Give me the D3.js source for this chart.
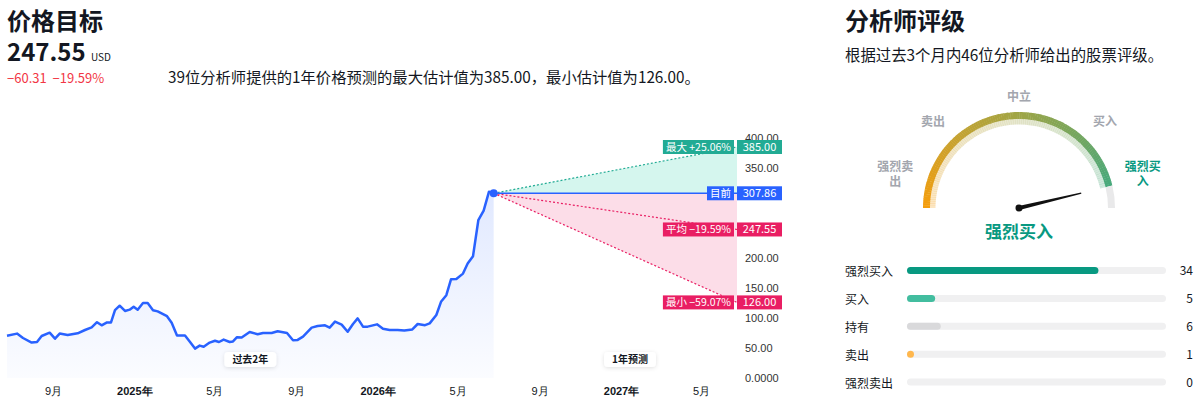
<!DOCTYPE html>
<html><head><meta charset="utf-8">
<script src="https://cdn.jsdelivr.net/npm/d3@7/dist/d3.min.js"></script>
<style>
body{margin:0;background:#fff;}
svg{display:block;font-family:"Noto Sans CJK SC","Noto Sans",sans-serif;}
</style></head><body>
<svg id="c" width="1200" height="405"></svg>
<script>
// ---------------- data ----------------
const priceDates = ["2024-06-24","2024-07-09","2024-07-18","2024-07-31","2024-08-08","2024-08-15","2024-08-27","2024-09-04","2024-09-11","2024-09-23","2024-10-08","2024-10-19","2024-10-29","2024-11-06","2024-11-13","2024-11-21","2024-11-27","2024-12-03","2024-12-10","2024-12-18","2024-12-25","2024-12-31","2025-01-06","2025-01-14","2025-01-21","2025-01-29","2025-02-05","2025-02-19","2025-02-26","2025-03-06","2025-03-18","2025-03-25","2025-04-02","2025-04-09","2025-04-15","2025-04-24","2025-05-02","2025-05-08","2025-05-15","2025-05-24","2025-05-29","2025-06-04","2025-06-11","2025-06-23","2025-07-05","2025-07-13","2025-07-26","2025-08-04","2025-08-18","2025-08-27","2025-09-03","2025-09-11","2025-09-24","2025-10-03","2025-10-14","2025-10-21","2025-10-29","2025-11-08","2025-11-17","2025-11-25","2025-12-02","2025-12-10","2025-12-17","2025-12-31","2026-01-09","2026-01-19","2026-01-31","2026-02-10","2026-02-22","2026-03-02","2026-03-13","2026-03-20","2026-03-30","2026-04-06","2026-04-14","2026-04-21","2026-04-29","2026-05-09","2026-05-16","2026-05-24","2026-06-01","2026-06-09","2026-06-17","2026-06-23","2026-06-24"];
const priceValues = [70.5,74,66.7,59,60,70,75.5,65.5,74,71.5,74.5,80,84.4,93,87.8,92.7,92.7,113,120.5,111.7,113.9,118.9,113.9,125,125,113,111,103,92,71,71,61,49,54,52,59,62,60,64,60,61,68,67.5,76.7,73,75,75,77.8,75,63,63.5,69,84,86.7,87.8,84,94,89,77,90,99.4,85.6,85.6,89.4,82,80,80,79,81,90,88,91,105,127,138,164.4,165,174,191,203,263,279,310.5,309,307.86];
const forecastEnd = "2027-06-24";
const currentPrice = 307.86;
const targetNames = ["最大","平均","最小"];
const targetValues = [385.00, 247.55, 126.00];
const yTicks = [0,50,100,150,200,250,300,350,400];
const xTickDates = ["2024-09-01","2025-01-01","2025-05-01","2025-09-01","2026-01-01","2026-05-01","2026-09-01","2027-01-01","2027-05-01"];
const xTickLabels = ["9月","2025年","5月","9月","2026年","5月","9月","2027年","5月"];
const ratingNames = ["强烈买入","买入","持有","卖出","强烈卖出"];
const ratingCounts = [34,5,6,1,0];
const ratingTotal = 46;
const gaugeLabels = ["强烈卖出","卖出","中立","买入","强烈买入"];
const gaugeScore = 4.70; // 1 = 强烈卖出 ... 5 = 强烈买入
const analystCount = 39;

// ---------------- setup ----------------
const svg = d3.select("#c");
const parse = d3.timeParse("%Y-%m-%d");
const INK = "#131722";
const BLUE = "#2962ff", GREEN = "#22ab94", PINK = "#e91e63", RED = "#f23645", TEAL = "#089981";
const fmt2 = d3.format(".2f");
const sgn = v => (v < 0 ? "\u2212" : "+") + fmt2(Math.abs(v));

// ---------------- headers ----------------
const avg = targetValues[1];
svg.append("text").attr("x",7).attr("y",30).attr("font-size",24).attr("font-weight",700).attr("fill",INK).text("价格目标");
svg.append("text").attr("x",7).attr("y",61).attr("font-size",24).attr("font-weight",700).attr("fill",INK).text(fmt2(avg));
svg.append("text").attr("x",91).attr("y",61).attr("font-size",10).attr("fill",INK).text("USD");
svg.append("text").attr("x",7).attr("y",83).attr("font-size",13).attr("fill",RED).attr("xml:space","preserve")
  .text(sgn(avg-currentPrice) + "  " + sgn((avg/currentPrice-1)*100) + "%");
svg.append("text").attr("x",168).attr("y",83).attr("font-size",15.3).attr("fill",INK)
  .text(`${analystCount}位分析师提供的1年价格预测的最大估计值为${fmt2(targetValues[0])}，最小估计值为${fmt2(targetValues[2])}。`);

svg.append("text").attr("x",845).attr("y",30).attr("font-size",24).attr("font-weight",700).attr("fill",INK).text("分析师评级");
svg.append("text").attr("x",845).attr("y",61).attr("font-size",15.4).attr("fill",INK)
  .text(`根据过去3个月内${ratingTotal}位分析师给出的股票评级。`);

// ---------------- price chart ----------------
const past = priceDates.map((d,i)=>({date:parse(d), v:priceValues[i]}));
const last = past[past.length-1];
const endD = parse(forecastEnd);
const x = d3.scaleTime().domain([past[0].date, endD]).range([7,737]);
const y = d3.scaleLinear().domain([0,400]).range([378,138]);

const defs = svg.append("defs");
const g1 = defs.append("linearGradient").attr("id","ag").attr("gradientUnits","userSpaceOnUse")
  .attr("x1",0).attr("x2",0).attr("y1",y(currentPrice)).attr("y2",y(0));
g1.append("stop").attr("offset",0).attr("stop-color",BLUE).attr("stop-opacity",0.14);
g1.append("stop").attr("offset",1).attr("stop-color",BLUE).attr("stop-opacity",0.02);
const sh = defs.append("filter").attr("id","sh").attr("x","-30%").attr("y","-60%").attr("width","160%").attr("height","220%");
sh.append("feDropShadow").attr("dx",0).attr("dy",1).attr("stdDeviation",2).attr("flood-color","#000").attr("flood-opacity",0.12);

const chart = svg.append("g");
chart.append("path").datum(past)
  .attr("d", d3.area().x(d=>x(d.date)).y0(y(0)).y1(d=>y(d.v)))
  .attr("fill","url(#ag)");

// forecast fills
const x0 = x(last.date), x1 = x(endD), yc = y(currentPrice);
chart.append("path").attr("d", `M${x0},${yc}L${x1},${y(targetValues[0])}L${x1},${yc}Z`).attr("fill","#2bd4a9").attr("fill-opacity",0.2);
chart.append("path").attr("d", `M${x0},${yc}L${x1},${yc}L${x1},${y(targetValues[2])}Z`).attr("fill",PINK).attr("fill-opacity",0.15);

const ln = d3.line().x(d=>x(d[0])).y(d=>y(d[1]));
targetValues.forEach((v,i)=>{
  chart.append("path").attr("d", ln([[last.date,currentPrice],[endD,v]]))
    .attr("fill","none").attr("stroke", i===0?GREEN:PINK).attr("stroke-width",1.2).attr("stroke-dasharray","2,2");
});
chart.append("path").attr("d", ln([[last.date,currentPrice],[endD,currentPrice]]))
  .attr("fill","none").attr("stroke",BLUE).attr("stroke-width",1.5);

chart.append("path").datum(past)
  .attr("d", d3.line().x(d=>x(d.date)).y(d=>y(d.v)))
  .attr("fill","none").attr("stroke",BLUE).attr("stroke-width",2.5).attr("stroke-linejoin","round");
chart.append("circle").attr("cx",x0).attr("cy",yc).attr("r",4).attr("fill",BLUE);

// period labels
function pill(cx, cy, txt){
  const g = svg.append("g");
  const r = g.append("rect").attr("fill","#fff").attr("rx",4).attr("filter","url(#sh)");
  const t = g.append("text").attr("x",cx).attr("y",cy+3.5).attr("text-anchor","middle")
    .attr("font-size",10).attr("font-weight",700).attr("fill",INK).text(txt);
  const w = t.node().getComputedTextLength()+16;
  r.attr("x",cx-w/2).attr("y",cy-7.5).attr("width",w).attr("height",15);
}
pill((x(past[0].date)+x0)/2, 359.5, "过去2年");
pill(630, 359.5, "1年预测");

// axes (tick labels hidden behind value tags are not drawn)
const tagVals = [currentPrice, ...targetValues];
const visTicks = yTicks.filter(t => tagVals.every(v => Math.abs(y(t)-y(v)) >= 8));
const ya = svg.append("g").attr("transform","translate(742,0)")
  .call(d3.axisRight(y).tickValues(visTicks).tickSize(0).tickPadding(3)
    .tickFormat(v => v===0 ? "0.0000" : fmt2(v)));
ya.select(".domain").remove();
ya.selectAll("text").attr("font-size",11).attr("fill","#333").attr("font-family","inherit");

const xa = svg.append("g").attr("transform","translate(0,387)")
  .call(d3.axisBottom(x).tickValues(xTickDates.map(parse)).tickSize(0).tickPadding(0)
    .tickFormat((d,i)=>xTickLabels[i]));
xa.select(".domain").remove();
xa.selectAll("text").attr("font-size",11).attr("fill",INK).attr("font-family","inherit")
  .attr("font-weight",(d,i)=>xTickLabels[i].includes("年")?700:400);

// value tags
function tag(v, left, right, color){
  const cy = y(v);
  const g = svg.append("g");
  const lr = g.append("rect").attr("fill",color);
  const lt = g.append("text").attr("x",731).attr("y",cy+4).attr("text-anchor","end")
    .attr("font-size",10.5).attr("fill","#fff").text(left);
  const w = lt.node().getComputedTextLength()+6;
  lr.attr("x",734-w).attr("y",cy-7).attr("width",w).attr("height",14);
  g.append("rect").attr("x",737).attr("y",cy-7).attr("width",45).attr("height",14).attr("fill",color);
  g.append("text").attr("x",759.5).attr("y",cy+4).attr("text-anchor","middle")
    .attr("font-size",11).attr("fill","#fff").text(right);
}
tag(targetValues[0], `${targetNames[0]} ${sgn((targetValues[0]/currentPrice-1)*100)}%`, fmt2(targetValues[0]), GREEN);
tag(currentPrice, "目前", fmt2(currentPrice), BLUE);
tag(targetValues[1], `${targetNames[1]} ${sgn((targetValues[1]/currentPrice-1)*100)}%`, fmt2(targetValues[1]), PINK);
tag(targetValues[2], `${targetNames[2]} ${sgn((targetValues[2]/currentPrice-1)*100)}%`, fmt2(targetValues[2]), PINK);

// ---------------- gauge ----------------
const gcx = 1019, gcy = 208;
const gg = svg.append("g").attr("transform",`translate(${gcx},${gcy})`);
const frac = (gaugeScore-1)/4;
const col = d3.scaleLinear().domain([0,0.25,0.5,0.75,1])
  .range(["#f59d0c","#c9a22f","#9fa546","#6ea663","#36ab88"]);
const ang = f => -Math.PI/2 + f*Math.PI;
const N = 120;
const outer = d3.arc().innerRadius(89).outerRadius(96);
const inner = d3.arc().innerRadius(83.5).outerRadius(89);
for(let i=0;i<N;i++){
  const a = frac*i/N, b = frac*(i+1)/N;
  const c = col((a+b)/2);
  const e = i<N-1 ? 0.004 : 0;
  gg.append("path").attr("d", outer({startAngle:ang(a), endAngle:ang(b)+e})).attr("fill",c);
  gg.append("path").attr("d", inner({startAngle:ang(a), endAngle:ang(b)+e})).attr("fill",c).attr("fill-opacity",0.25);
}
gg.append("path").attr("d", outer({startAngle:ang(frac), endAngle:ang(1)})).attr("fill","#e9e9ea");

// needle
const th = Math.PI*(1-frac), L = 64;
const ux = Math.cos(th), uy = -Math.sin(th), px = -uy, py = ux;
gg.append("path").attr("d",
  `M${px*2},${py*2}L${ux*L+px*0.6},${uy*L+py*0.6}L${ux*L-px*0.6},${uy*L-py*0.6}L${-px*2},${-py*2}Z`)
  .attr("fill","#111");
gg.append("circle").attr("r",3.5).attr("fill","#111");

// gauge labels
const labelAngles = [165,135,90,45,15];
const labelRadius = [128,121.5,111,121.5,128];
gaugeLabels.forEach((lab,i)=>{
  const a = labelAngles[i]*Math.PI/180;
  const lx = Math.cos(a)*labelRadius[i], ly = -Math.sin(a)*labelRadius[i];
  const sel = i===4;
  const t = gg.append("text").attr("text-anchor","middle").attr("font-size",12).attr("font-weight",700)
    .attr("fill", sel?TEAL:"#a3a6ae");
  if(lab.length>3){
    t.append("tspan").attr("x",lx).attr("y",ly-7.5+4).text(lab.slice(0,3));
    t.append("tspan").attr("x",lx).attr("y",ly+7.5+4).text(lab.slice(3));
  } else {
    t.attr("x",lx).attr("y",ly+4).text(lab);
  }
});
gg.append("text").attr("x",0).attr("y",30).attr("text-anchor","middle").attr("font-size",17)
  .attr("font-weight",700).attr("fill",TEAL).text(gaugeLabels[Math.round(gaugeScore)-1]);

// ---------------- rating bars ----------------
const barColors = ["#089981","#42bd9f","#d9d9db","#ffb74d","#f7a21b"];
const by = d3.scalePoint().domain(ratingNames).range([270.6,382]);
const bx = d3.scaleLinear().domain([0,ratingTotal]).range([0,259]);
const rows = svg.append("g").selectAll("g").data(ratingNames).join("g")
  .attr("transform", d=>`translate(0,${by(d)})`);
rows.append("text").attr("x",845).attr("y",5.5).attr("font-size",12).attr("fill",INK).text(d=>d);
rows.append("rect").attr("x",907).attr("y",-3.5).attr("width",259).attr("height",7).attr("rx",3.5).attr("fill","#f0f0f1");
rows.append("rect").attr("x",907).attr("y",-3.5).attr("height",7).attr("rx",3.5)
  .attr("width",(d,i)=>ratingCounts[i]>0?Math.max(bx(ratingCounts[i]),7):0)
  .attr("fill",(d,i)=>barColors[i]);
rows.append("text").attr("x",1193).attr("y",4.5).attr("text-anchor","end").attr("font-size",12)
  .attr("fill",INK).text((d,i)=>ratingCounts[i]);
</script>
</body></html>
